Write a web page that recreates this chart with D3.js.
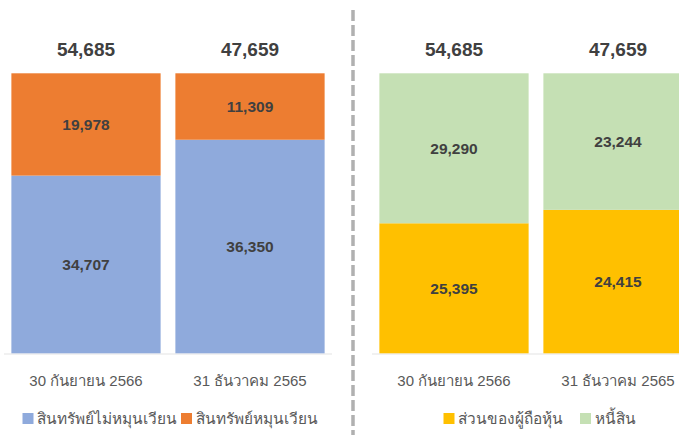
<!DOCTYPE html>
<html>
<head>
<meta charset="utf-8">
<script src="https://cdn.jsdelivr.net/npm/d3@7"></script>
<style>
	body { margin: 0; background: #fff; }
	text { font-family: "Liberation Sans", Arial, sans-serif; }
</style>
</head>
<body>
<div id="chart"></div>
<script>

///////////////////////////////////////////////////////////////////////////
//////////////////////////////// Data /////////////////////////////////////
///////////////////////////////////////////////////////////////////////////

var categories = ["30 กันยายน 2566", "31 ธันวาคม 2565"];
var totals = [54685, 47659];

//Left panel - assets
var assetKeys = ["สินทรัพย์ไม่หมุนเวียน", "สินทรัพย์หมุนเวียน"];
var nonCurrentAssets = [34707, 36350];
var currentAssets = [19978, 11309];

//Right panel - equity & liabilities
var fundKeys = ["ส่วนของผู้ถือหุ้น", "หนี้สิน"];
var equity = [25395, 24415];
var liabilities = [29290, 23244];

var width = 679, height = 435;

var svg = d3.select("#chart").append("svg")
	.attr("width", width)
	.attr("height", height);

var y = d3.scaleLinear().domain([0, 1]).range([353.3, 73.3]);

//Draw one 100% stacked panel
function drawPanel(opts) {
	var x = d3.scaleBand()
		.domain(categories)
		.range(opts.range)
		.paddingInner(0.09)
		.paddingOuter(0.045);

	var rows = categories.map(function(c, i) {
		var r = { cat: c, total: totals[i] };
		r[opts.keys[0]] = opts.series[0][i] / totals[i];
		r[opts.keys[1]] = opts.series[1][i] / totals[i];
		r.raw = [opts.series[0][i], opts.series[1][i]];
		return r;
	});

	var stacked = d3.stack().keys(opts.keys)(rows);

	var g = svg.append("g");

	//Baseline
	g.append("line")
		.attr("x1", opts.range[0]).attr("x2", opts.range[1])
		.attr("y1", y(0) + 0.7).attr("y2", y(0) + 0.7)
		.style("stroke", "#e3e3e3")
		.style("stroke-width", 1.2);

	stacked.forEach(function(layer, k) {
		g.selectAll(".bar-" + k)
			.data(layer)
			.enter().append("rect")
			.attr("x", function(d) { return x(d.data.cat); })
			.attr("y", function(d) { return y(d[1]); })
			.attr("width", x.bandwidth())
			.attr("height", function(d) { return y(d[0]) - y(d[1]); })
			.style("fill", opts.colors[k]);

		g.selectAll(".val-" + k)
			.data(layer)
			.enter().append("text")
			.attr("x", function(d) { return x(d.data.cat) + x.bandwidth() / 2; })
			.attr("y", function(d) { return (y(d[0]) + y(d[1])) / 2; })
			.attr("dy", "0.36em")
			.style("text-anchor", "middle")
			.style("font-size", "15.5px")
			.style("font-weight", "bold")
			.style("fill", "#404040")
			.text(function(d) { return d3.format(",")(d.data.raw[k]); });
	});

	//Totals on top
	g.selectAll(".total")
		.data(rows)
		.enter().append("text")
		.attr("x", function(d) { return x(d.cat) + x.bandwidth() / 2; })
		.attr("y", 49)
		.attr("dy", "0.36em")
		.style("text-anchor", "middle")
		.style("font-size", "19px")
		.style("font-weight", "bold")
		.style("fill", "#404040")
		.text(function(d) { return d3.format(",")(d.total); });

	//Category labels
	g.selectAll(".cat")
		.data(categories)
		.enter().append("text")
		.attr("x", function(d) { return x(d) + x.bandwidth() / 2; })
		.attr("y", 381)
		.attr("dy", "0.36em")
		.style("text-anchor", "middle")
		.style("font-size", "15px")
		.style("fill", "#595959")
		.text(function(d) { return d; });

	//Legend
	opts.legend.forEach(function(l, k) {
		g.append("rect")
			.attr("x", l.x).attr("y", 413)
			.attr("width", 11).attr("height", 11)
			.style("fill", opts.colors[k]);
		g.append("text")
			.attr("x", l.x + 14.5)
			.attr("y", 418.5)
			.attr("dy", "0.36em")
			.style("font-size", "15.4px")
			.style("fill", "#595959")
			.text(opts.keys[k]);
	});
}

drawPanel({
	range: [4, 332],
	keys: assetKeys,
	series: [nonCurrentAssets, currentAssets],
	colors: ["#8FAADC", "#ED7D31"],
	legend: [{ x: 22.5 }, { x: 181 }]
});

drawPanel({
	range: [372, 700],
	keys: fundKeys,
	series: [equity, liabilities],
	colors: ["#FFC000", "#C5E0B4"],
	legend: [{ x: 443.5 }, { x: 580 }]
});

//Dashed separator
svg.append("line")
	.attr("x1", 353).attr("x2", 353)
	.attr("y1", 10).attr("y2", height)
	.style("stroke", "#b0b0b0")
	.style("stroke-width", 3.5)
	.style("stroke-dasharray", "11,4");

</script>
</body>
</html>
